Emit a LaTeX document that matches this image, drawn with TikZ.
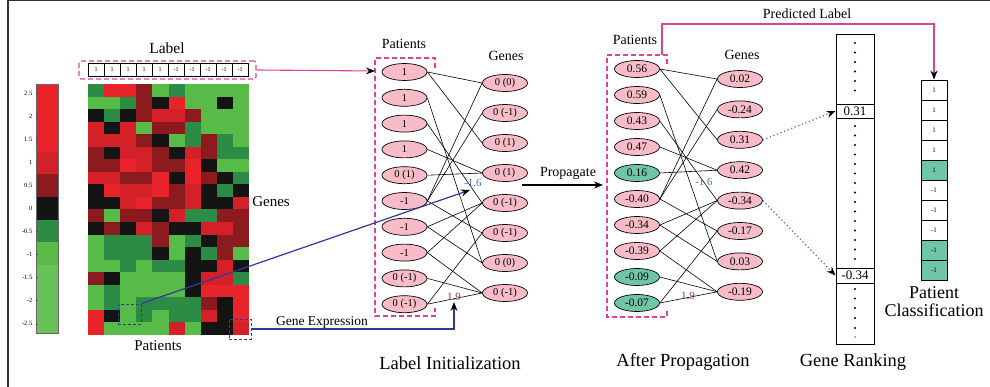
\documentclass[tikz,border=0pt]{standalone}
\usepackage{fontspec}
\setmainfont{Liberation Serif}
\usetikzlibrary{shapes.geometric,arrows.meta}
\definecolor{hmR}{HTML}{E8232A}
\definecolor{hmr}{HTML}{D42129}
\definecolor{hmD}{HTML}{8C1B20}
\definecolor{hmK}{HTML}{141414}
\definecolor{hmG}{HTML}{2C8C46}
\definecolor{hmg}{HTML}{58BA47}
\definecolor{pinkfill}{HTML}{F8BCC8}
\definecolor{tealfill}{HTML}{6EC6A6}
\definecolor{pinkline}{HTML}{E0409A}
\definecolor{blueline}{HTML}{2E3A9A}
\definecolor{bluetext}{HTML}{4A6EC8}
\definecolor{browntext}{HTML}{9A3A34}
\tikzset{
  fs/.style={font=\fontsize{#1}{#1}\selectfont},
  pnode/.style={ellipse, draw=black, fill=pinkfill, line width=0.7pt, minimum width=45pt, minimum height=17pt, inner sep=0pt},
  tnode/.style={pnode, fill=tealfill},
  edgeline/.style={black, line width=0.6pt},
  lcell/.style={draw=black, line width=0.9pt, minimum width=16pt, minimum height=13pt, inner sep=0pt, fs=6},
  ccell/.style={draw=black, line width=0.9pt, minimum width=26pt, minimum height=20pt, inner sep=0pt, fs=7},
  pinkdash/.style={pinkline, line width=1.1pt, dash pattern=on 5pt off 3pt},
  bluedash/.style={draw=blueline, line width=1pt, dash pattern=on 3pt off 2pt, inner sep=0pt},
  arr/.style={-{Stealth[length=9pt,width=7pt,black]}},
}
\begin{document}
\begin{tikzpicture}[x=1pt,y=-1pt]
\useasboundingbox (0,0) rectangle (990,387);
% frame
\draw[line width=2pt, black!80] (8,0) -- (8,387);
\draw[line width=1.6pt, black!80] (8,0.5) -- (990,0.5);
% colour bar
\fill[hmR] (36,84) rectangle (58,152);
\fill[hmr] (36,151.7) rectangle (58,174.3);
\fill[hmD] (36,174.3) rectangle (58,196.7);
\fill[hmK] (36,196.7) rectangle (58,220);
\fill[hmG] (36,220) rectangle (58,242.3);
\fill[hmg] (36,242.3) rectangle (58,265);
\fill[hmg!90!white] (36,265) rectangle (58,333);
\draw[black!60, line width=0.5pt] (36,84) rectangle (58,333);
\foreach \t [count=\k from 0] in {2.5,2,1.5,1,0.5,0,-0.5,-1,-1.5,-2,-2.5}{
  \node[fs=6.5, anchor=east, inner sep=0pt] (tick\k) at (32.5,{93+23.07*\k}) {\t};
  \draw[black!70, line width=0.4pt] (36,{93+23.07*\k}) -- (38,{93+23.07*\k});
}
% heat map
\foreach \row [count=\j from 0] in {
 {G,R,R,D,g,G,g,g,g,g},
 {g,g,G,D,K,R,g,g,K,g},
 {K,G,K,D,r,r,D,g,g,g},
 {r,K,r,g,D,D,G,g,g,g},
 {r,r,r,D,K,g,G,D,G,g},
 {D,K,r,r,D,K,r,D,G,G},
 {D,D,R,r,D,D,R,K,g,g},
 {r,r,D,D,R,K,R,D,K,G},
 {K,R,r,r,R,D,r,K,G,K},
 {K,K,r,R,D,D,r,K,K,r},
 {D,g,D,D,K,r,G,G,D,D},
 {K,D,K,r,D,K,K,r,r,D},
 {g,G,G,G,D,g,G,K,D,D},
 {g,G,G,G,K,g,K,G,D,g},
 {g,g,G,g,G,G,K,K,r,K},
 {D,K,g,g,g,g,K,r,r,G},
 {g,G,g,g,g,g,K,R,R,R},
 {g,G,g,G,G,G,G,D,K,R},
 {R,K,g,G,g,G,G,r,K,R},
 {R,g,g,g,g,r,g,K,K,r}}{
  \foreach \c [count=\i from 0] in \row {
    \fill[hm\c] ({88+16.1*\i},{84+12.55*\j}) rectangle +(16.3,12.75);
  }
}
% label row
\foreach \t [count=\i from 0] in {1,1,1,1,1,-1,-1,-1,-1,-1}{
  \node[lcell] (lc\i) at ({96+16*\i},69.5) {\t};
}
\node[draw=pinkline, line width=1.1pt, dash pattern=on 5pt off 3pt, rounded corners=2pt, minimum width=177pt, minimum height=18pt] (labelbox) at (167.5,70) {};
\node[fs=15.5] (labeltxt) at (167,48) {Label};
\node[fs=15] (patA) at (158,346) {Patients};
\node[fs=15] (genesA) at (271,202) {Genes};
% blue dashed boxes
\node[bluedash, minimum width=23pt, minimum height=20pt] (smallbox) at (129.5,314) {};
\node[bluedash, minimum width=22pt, minimum height=20pt] (rightbox) at (240,329) {};

% graph 1
\node[fs=14] (patB) at (404,44) {Patients};
\node[fs=14] (genB) at (506,56) {Genes};
\foreach \t [count=\i from 0] in {1,1,1,1,{0 (1)},-1,-1,-1,{0 (-1)},{0 (-1)}}{
  \node[pnode, fs=10.5] (a\i) at (404.5,{72+25.8*\i}) {\t};
}
\foreach \t [count=\i from 0] in {{0 (0)},{0 (-1)},{0 (1)},{0 (1)},{0 (-1)},{0 (-1)},{0 (0)},{0 (-1)}}{
  \node[pnode, fs=10.5] (b\i) at (505,{83+30*\i}) {\t};
}
\foreach \p/\g in {0/0,0/2,1/6,2/4,3/3,4/3,5/0,5/1,5/5,6/4,6/6,7/4,7/7,8/7,9/5,9/7}{
  \draw[edgeline] (a\p.east) -- (b\g.west);
}
\draw[pinkdash] (435,68) -- (435,58) -- (375,58) -- (375,316) -- (435,316) -- (435,308);
\coordinate (pb1) at (375,71);
\draw[pinkline, line width=1.1pt, arr] (labelbox.east) -- (pb1);
\node[fs=11, text=bluetext] (wA) at (473,183) {-1.6};
\node[fs=11, text=browntext] (wB) at (454,297) {1.9};

% blue connectors
\coordinate (tipA) at (470,190);
\draw[blueline, line width=1.2pt, arr] (smallbox.north east) -- (tipA);
\coordinate (tipB) at (454,302);
\draw[blueline, line width=1.2pt, arr] (rightbox.east) -- (454,329) -- (tipB);
\node[fs=13.5] (gexp) at (322,322) {Gene Expression};

% propagate
\coordinate (propS) at (522,185);
\coordinate (propE) at (603,185);
\draw[black, line width=1.2pt, arr] (propS) -- (propE);
\node[fs=14] (proptxt) at (568,173) {Propagate};

% graph 2
\node[fs=14] (patC) at (635,40) {Patients};
\node[fs=14] (genC) at (742,55) {Genes};
\foreach \t/\s [count=\i from 0] in {0.56/pnode,0.59/pnode,0.43/pnode,0.47/pnode,0.16/tnode,-0.40/pnode,-0.34/pnode,-0.39/pnode,-0.09/tnode,-0.07/tnode}{
  \node[\s, fs=11.5] (c\i) at (637,{69+26*\i}) {\t};
}
\foreach \t [count=\i from 0] in {0.02,-0.24,0.31,0.42,-0.34,-0.17,0.03,-0.19}{
  \node[pnode, fs=11.5] (d\i) at (740,{79+30.4*\i}) {\t};
}
\foreach \p/\g in {0/0,0/2,1/6,2/4,3/3,4/3,5/0,5/1,5/5,6/4,6/6,7/4,7/7,8/7,9/5,9/7}{
  \draw[edgeline] (c\p.east) -- (d\g.west);
}
\draw[pinkdash] (667,64) -- (667,55) -- (607,55) -- (607,317) -- (667,317) -- (667,309);
\node[fs=11, text=bluetext] (wC) at (704,182) {-1.6};
\node[fs=11, text=browntext] (wD) at (688,296) {1.9};

% gene ranking
\node[draw=black, line width=0.9pt, minimum width=38pt, minimum height=310pt, inner sep=0pt] (rank) at (855,189) {};
\node[draw=black, fill=white, line width=0.9pt, minimum width=38pt, minimum height=14pt, inner sep=0pt, fs=13] (r1) at (855,111) {0.31};
\node[draw=black, fill=white, line width=0.9pt, minimum width=38pt, minimum height=15pt, inner sep=0pt, fs=13] (r2) at (855,275.5) {-0.34};
\foreach \y in {43,52.5,62,71.5,81,90.5,126,135.5,145,154.5,164,173.5,183,192.5,202,211.5,221,230.5,240,249.5,259,289,298.5,308,318,328}{
  \fill[black] (855,\y) circle (1.2pt);
}
\fill[black!40] (855,337) circle (1.2pt);
\draw[bluetext, line width=1.2pt, dash pattern=on 1.2pt off 2.6pt, -{Stealth[length=9pt,width=7pt,black]}] (d2.east) -- (r1.west);
\draw[bluetext, line width=1.2pt, dash pattern=on 1.2pt off 2.6pt, -{Stealth[length=9pt,width=7pt,black]}] (d4.east) -- (r2.west);

% patient classification
\foreach \t/\f [count=\i from 0] in {1/white,1/white,1/white,1/white,1/tealfill,-1/white,-1/white,-1/white,-1/tealfill,-1/tealfill}{
  \node[ccell, fill=\f] (pc\i) at (934,{90+20*\i}) {\t};
}
\coordinate (predS) at (662,55);
\draw[pinkline, line width=1.1pt, arr] (predS) -- (662,24) -- (934,24) -- (pc0.north);
\node[fs=14] (predtxt) at (807,14) {Predicted Label};

% captions
\node[fs=18.5] (capA) at (450,363) {Label Initialization};
\node[fs=18.5] (capB) at (683,362) {After Propagation};
\node[fs=18.5] (capC) at (853,362) {Gene Ranking};
\node[font=\fontsize{18}{17.5}\selectfont, align=center, inner sep=0pt] (capD) at (934,301.5) {Patient\\Classification};
\end{tikzpicture}
\end{document}
